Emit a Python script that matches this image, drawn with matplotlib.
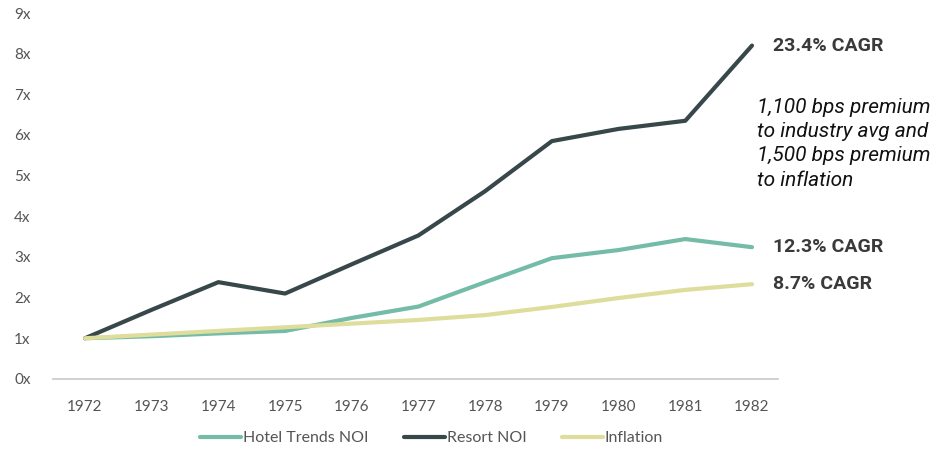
import matplotlib.pyplot as plt

years = [1972, 1973, 1974, 1975, 1976, 1977, 1978, 1979, 1980, 1981, 1982]
hotel_trends = [1.0, 1.05, 1.12, 1.18, 1.5, 1.78, 2.38, 2.97, 3.17, 3.44, 3.24]
resort_noi = [1.0, 1.7, 2.38, 2.1, 2.82, 3.53, 4.62, 5.85, 6.15, 6.35, 8.2]
inflation = [1.0, 1.09, 1.18, 1.27, 1.36, 1.45, 1.57, 1.77, 1.99, 2.19, 2.33]
cagr_labels = ["12.3% CAGR", "23.4% CAGR", "8.7% CAGR"]
note = "1,100 bps premium\nto industry avg and\n1,500 bps premium\nto inflation"

plt.rcParams['font.family'] = ['Lato', 'DejaVu Sans']

fig = plt.figure(figsize=(9.41, 4.5), dpi=100)
ax = fig.add_axes([0.0563, 0.158, 0.7705, 0.813])

series = [
    (hotel_trends, '#74bca8', 'Hotel Trends NOI'),
    (resort_noi, '#37474a', 'Resort NOI'),
    (inflation, '#dedd9c', 'Inflation'),
]
for vals, color, name in series:
    ax.plot(years, vals, color=color, lw=3, label=name, solid_capstyle='round')

# CAGR tag at the end of each line
for (vals, color, name), lab in zip(series, cagr_labels):
    ax.annotate(lab, (years[-1], vals[-1]), xytext=(15, 0), textcoords='offset points',
                va='center', ha='left', fontsize=14, fontweight='bold', color='#3a3a3a',
                family=['Roboto', 'DejaVu Sans'], annotation_clip=False)

fig.text(0.804, 0.783, note, ha='left', va='top', fontsize=15, style='italic',
         color='#111111', family=['Roboto', 'DejaVu Sans'], linespacing=1.36)

ax.set_xlim(1972 - 0.48, 1982 + 0.39)
ax.set_ylim(0, 9)
ax.set_xticks(years)
ax.set_yticks(range(10))
ax.set_yticklabels([f"{i}x" for i in range(10)])
for s in ['top', 'right', 'left']:
    ax.spines[s].set_visible(False)
ax.spines['bottom'].set_color('#c8c8c8')
ax.spines['bottom'].set_linewidth(1.2)
ax.tick_params(axis='y', length=0, pad=16, labelsize=11, labelcolor='#555555')
ax.tick_params(axis='x', length=0, pad=15, labelsize=11, labelcolor='#555555')

ax.legend(loc='center', bbox_to_anchor=(0.522, -0.162), ncol=3, frameon=False,
          fontsize=11.5, handlelength=2.6, handletextpad=0.1, columnspacing=2.2,
          labelcolor='#555555')

fig.savefig('out.png', dpi=100)
